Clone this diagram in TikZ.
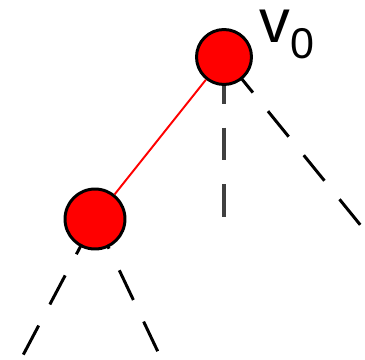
\documentclass[tikz,border=0pt]{standalone}
\usepackage{fontspec}
\setmainfont{Liberation Sans}
\usetikzlibrary{backgrounds}
\tikzset{
  vtx/.style={circle, draw=black, line width=1.7pt, fill=red, inner sep=0pt},
  redge/.style={red, line width=1.1pt},
  hedge/.style={black, line width=1.7pt, dash pattern=on 18.7pt off 13.6pt},
}
\begin{document}
\begin{tikzpicture}[x=0.02cm, y=-0.02cm]
  \useasboundingbox (0,0) rectangle (365,359);
  \node[vtx, minimum size=1.1cm] (v0) at (224,57) {};
  \node[vtx, minimum size=1.2cm] (v1) at (95,219) {};
  \node[anchor=base west, inner sep=0pt, text height=19pt, text depth=11pt, font=\fontsize{35}{35}\selectfont] (lbl) at (259,42) {v\raisebox{-9.6pt}{\fontsize{24.5}{25}\selectfont 0}};
  \coordinate (d0) at (224,221);
  \coordinate (d1) at (362,227);
  \coordinate (d2) at (21,359);
  \coordinate (d3) at (159,354);
  \draw[redge] (v0) -- (v1);
  % hidden edges, behind the vertices
  \begin{scope}[on background layer]
    \draw[hedge, line width=2.8pt, black!75, dash phase=24.4pt] (v0.center) -- (d0);
    \draw[hedge, dash phase=24.9pt] (v0.center) -- (d1);
    \draw[hedge, dash phase=28.3pt] (v1.center) -- (d2);
    \draw[hedge] (v1.center) -- (d3);
  \end{scope}
\end{tikzpicture}
\end{document}
